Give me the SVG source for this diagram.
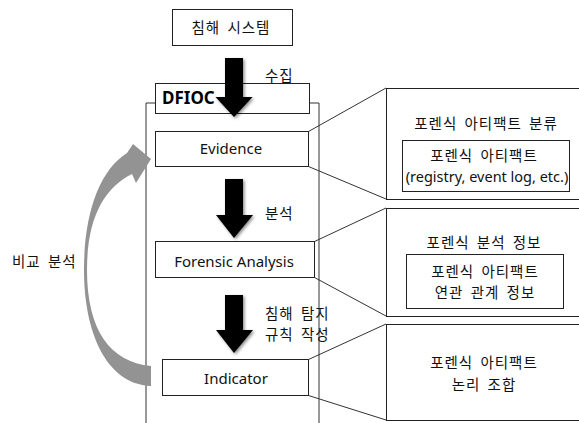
<svg xmlns="http://www.w3.org/2000/svg" width="579" height="423" viewBox="0 0 579 423">
<defs>
<style>
.box{fill:#fff;stroke:#222;stroke-width:1}
.line{fill:none;stroke:#333;stroke-width:1}
.t{font-family:"Noto Sans","Noto Sans CJK KR",sans-serif;font-size:15px;fill:#111}
.k{font-family:"Noto Sans CJK KR","Noto Sans",sans-serif;font-size:14.5px;letter-spacing:1px;word-spacing:3px;fill:#111}
.c{text-anchor:middle}
.down{fill:#000;filter:url(#sh)}
</style>
<filter id="sh" x="-30%" y="-30%" width="160%" height="160%">
<feDropShadow dx="1.5" dy="1.5" stdDeviation="1.5" flood-color="#000" flood-opacity="0.45"/>
</filter>
<filter id="sh2" x="-30%" y="-30%" width="160%" height="160%">
<feGaussianBlur stdDeviation="0.6"/>
</filter>
</defs>
<rect width="579" height="423" fill="#fff"/>

<g id="container">
<path class="line" d="M146,423 V103 H319 V423"/>
</g>

<g id="compromised-system">
<rect class="box" x="172.5" y="9.5" width="120" height="36"/>
<text class="k c" x="231" y="33">침해 시스템</text>
</g>

<g id="dfioc">
<rect class="box" x="155.5" y="83.5" width="154" height="30"/>
<text x="162" y="104" style="font-family:'Noto Sans','Noto Sans CJK KR',sans-serif;font-size:17px;font-weight:bold;fill:#000">DFIOC</text>
</g>

<g id="evidence">
<rect class="box" x="155.5" y="131.5" width="153" height="35"/>
<text class="t c" x="231" y="154">Evidence</text>
</g>

<g id="forensic-analysis">
<rect class="box" x="155.5" y="241.5" width="159" height="36"/>
<text class="t c" x="234" y="266.5">Forensic Analysis</text>
</g>

<g id="indicator">
<rect class="box" x="162.5" y="359.5" width="146" height="36"/>
<text class="t c" x="236" y="383.5">Indicator</text>
</g>

<g id="connectors">
<path class="line" d="M308.5,131.5 L386,88 M308.5,166.5 L386,199"/>
<path class="line" d="M314.5,241.5 L386,208 M314.5,277.5 L386,316"/>
<path class="line" d="M308.5,359.5 L386,324 M308.5,395.5 L386,420"/>
<path class="down" d="M225,58 H243 V97 H252.5 L234,117 L215.5,97 H225 Z"/>
<path class="down" d="M225,179 H243 V215 H253 L234,238 L216,215 H225 Z"/>
<path class="down" d="M225,295 H243 V330 H253 L234,353 L216,330 H225 Z"/>
<path fill="#939393" filter="url(#sh2)" d="M151,386 C105,384 84,330 84,270 C84,212 100,170 127,153 L133,144 L151,159 L136,183 L132,174 C104,188 87,218 87,270 C87,330 110,362 151,366 Z"/>
<text class="k" x="265" y="81">수집</text>
<text class="k" x="265" y="219">분석</text>
<text class="k" x="265" y="318.5">침해 탐지</text>
<text class="k" x="265" y="339.5">규칙 작성</text>
<text class="k" x="12" y="267">비교 분석</text>
</g>

<g id="artifact-classification">
<rect class="box" x="386.5" y="88.5" width="220" height="111"/>
<text class="k c" x="486" y="128.5">포렌식 아티팩트 분류</text>
<rect class="box" x="402.5" y="140.5" width="167" height="51"/>
<text class="k c" x="484" y="160.5">포렌식 아티팩트</text>
<text class="t c" x="487" y="182" style="font-size:14.5px">(registry, event log, etc.)</text>
</g>

<g id="forensic-analysis-info">
<rect class="box" x="386.5" y="208.5" width="220" height="108"/>
<text class="k c" x="484" y="247.5">포렌식 분석 정보</text>
<rect class="box" x="406.5" y="254.5" width="157" height="54"/>
<text class="k c" x="485" y="277">포렌식 아티팩트</text>
<text class="k c" x="485" y="298">연관 관계 정보</text>
</g>

<g id="artifact-logic">
<rect class="box" x="386.5" y="324.5" width="220" height="96"/>
<text class="k c" x="484" y="368">포렌식 아티팩트</text>
<text class="k c" x="484" y="390">논리 조합</text>
</g>
</svg>
